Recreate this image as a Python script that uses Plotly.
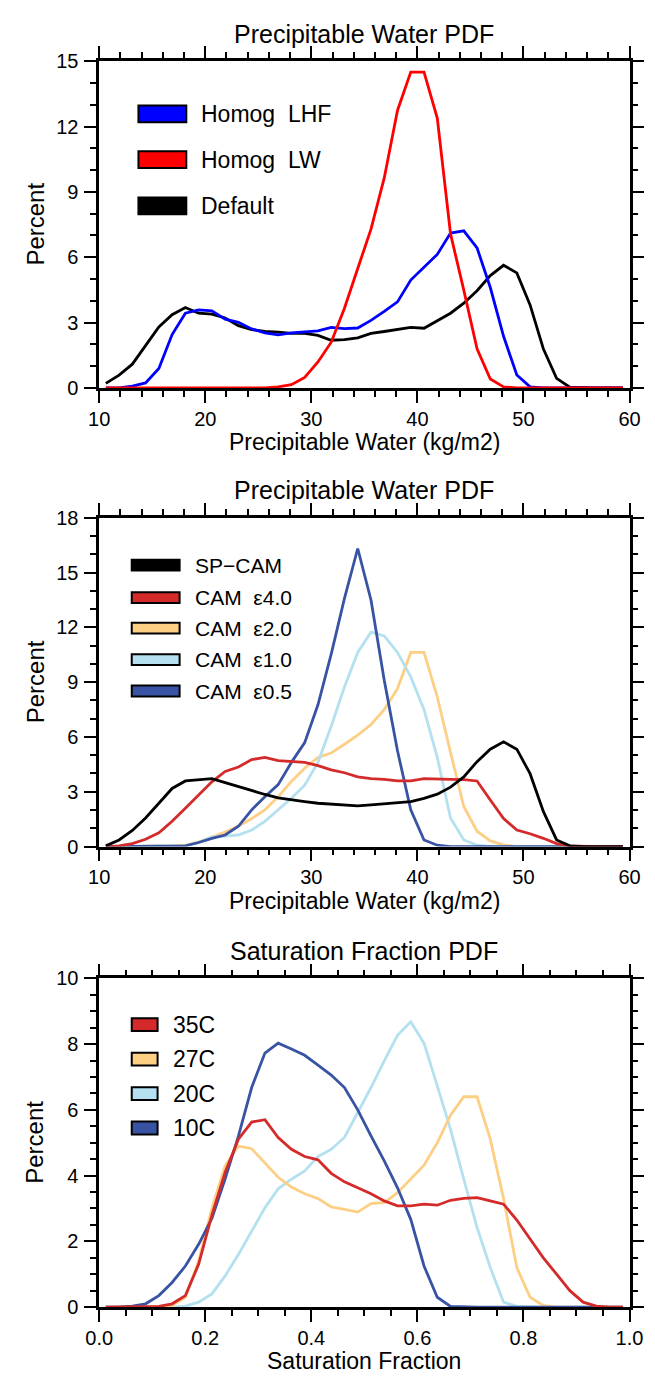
import plotly.graph_objects as go

# ---------------- data ----------------
pw_x = [10.625 + 1.25 * i for i in range(40)]

p1_default = [0.21, 0.59, 1.09, 1.92, 2.80, 3.36, 3.69, 3.43, 3.39, 3.21, 2.86, 2.68, 2.59, 2.56, 2.50, 2.50,
              2.41, 2.19, 2.22, 2.30, 2.50, 2.59, 2.68, 2.78, 2.74, 3.09, 3.43, 3.89, 4.46, 5.16, 5.63, 5.28,
              3.81, 1.80, 0.44, 0.03, 0, 0, 0, 0]
p1_lhf = [0, 0, 0.08, 0.23, 0.89, 2.45, 3.43, 3.58, 3.54, 3.16, 3.01, 2.71, 2.53, 2.44, 2.53, 2.59,
          2.62, 2.78, 2.72, 2.75, 3.10, 3.51, 3.95, 4.95, 5.55, 6.13, 7.11, 7.21, 6.43, 4.61, 2.37, 0.59,
          0.05, 0, 0, 0, 0, 0, 0, 0]
p1_lw = [0, 0, 0, 0, 0, 0, 0, 0, 0, 0, 0, 0, 0, 0.05, 0.15, 0.48,
         1.19, 2.10, 3.66, 5.48, 7.29, 9.64, 12.74, 14.5, 14.5, 12.39, 7.07, 4.49, 1.80, 0.41, 0.05, 0,
         0, 0, 0, 0, 0, 0, 0, 0]

p2_spcam = [0.04, 0.36, 0.88, 1.56, 2.37, 3.18, 3.59, 3.66, 3.72, 3.50, 3.27, 3.05, 2.85, 2.67, 2.55, 2.46,
            2.37, 2.33, 2.28, 2.23, 2.28, 2.33, 2.37, 2.46, 2.64, 2.87, 3.25, 3.81, 4.65, 5.33, 5.73, 5.33,
            3.99, 1.92, 0.36, 0.04, 0, 0, 0, 0]
p2_e40 = [0, 0.04, 0.16, 0.40, 0.75, 1.38, 2.10, 2.82, 3.54, 4.11, 4.35, 4.76, 4.88, 4.70, 4.65, 4.61,
          4.43, 4.20, 4.04, 3.81, 3.72, 3.68, 3.59, 3.59, 3.72, 3.72, 3.68, 3.66, 3.59, 2.55, 1.53, 0.90,
          0.70, 0.45, 0.16, 0.04, 0, 0, 0, 0]
p2_e20 = [0, 0, 0, 0, 0, 0.04, 0.07, 0.25, 0.52, 0.79, 1.11, 1.53, 2.01, 2.73, 3.57, 4.29,
          4.88, 5.12, 5.60, 6.10, 6.68, 7.49, 8.65, 10.63, 10.63, 8.20, 5.15, 2.19, 0.84, 0.31, 0.09, 0,
          0, 0, 0, 0, 0, 0, 0, 0]
p2_e10 = [0, 0, 0, 0, 0, 0, 0.04, 0.22, 0.52, 0.57, 0.63, 0.90, 1.38, 2.01, 2.64, 3.36,
          4.61, 6.59, 8.74, 10.63, 11.74, 11.53, 10.63, 9.29, 7.49, 4.88, 1.56, 0.36, 0.07, 0, 0, 0,
          0, 0, 0, 0, 0, 0, 0, 0]
p2_e05 = [0, 0, 0, 0, 0, 0, 0.04, 0.22, 0.45, 0.63, 1.11, 2.01, 2.73, 3.39, 4.61, 5.69,
          7.76, 10.54, 13.59, 16.32, 13.50, 9.10, 5.24, 2.01, 0.36, 0.07, 0, 0, 0, 0, 0, 0,
          0, 0, 0, 0, 0, 0, 0, 0]

sf_x = [0.0125 + 0.025 * j for j in range(40)]
p3_35c = [0, 0, 0, 0, 0.02, 0.10, 0.35, 1.30, 2.80, 4.10, 5.11, 5.63, 5.70, 5.16, 4.80, 4.58,
          4.48, 4.07, 3.81, 3.63, 3.45, 3.23, 3.08, 3.08, 3.13, 3.10, 3.25, 3.31, 3.33, 3.23, 3.13, 2.65,
          2.06, 1.50, 1.00, 0.50, 0.15, 0.03, 0, 0]
p3_27c = [0, 0, 0, 0, 0, 0.05, 0.30, 1.40, 3.00, 4.30, 4.90, 4.82, 4.40, 3.95, 3.65, 3.45,
          3.30, 3.05, 2.97, 2.89, 3.15, 3.18, 3.48, 3.89, 4.32, 5.00, 5.84, 6.40, 6.40, 5.11, 3.30, 1.20,
          0.30, 0.05, 0, 0, 0, 0, 0, 0]
p3_20c = [0, 0, 0, 0, 0, 0, 0.03, 0.15, 0.40, 0.95, 1.60, 2.31, 3.02, 3.60, 3.89, 4.14,
          4.58, 4.80, 5.16, 5.92, 6.68, 7.49, 8.27, 8.68, 8.03, 6.73, 5.41, 3.89, 2.42, 1.20, 0.15, 0.02,
          0, 0, 0, 0, 0, 0, 0, 0]
p3_10c = [0, 0, 0.03, 0.10, 0.35, 0.75, 1.25, 1.91, 2.70, 3.90, 5.20, 6.68, 7.73, 8.03, 7.85, 7.66,
          7.36, 7.06, 6.68, 6.00, 5.21, 4.45, 3.63, 2.67, 1.25, 0.30, 0.02, 0, 0, 0, 0, 0,
          0, 0, 0, 0, 0, 0, 0, 0]

p1_names = ["Homog\u00a0\u00a0LHF", "Homog\u00a0\u00a0LW", "Default"]
p2_names = ["SP\u2212CAM", "CAM\u00a0\u00a0\u03b54.0", "CAM\u00a0\u00a0\u03b52.0", "CAM\u00a0\u00a0\u03b51.0", "CAM\u00a0\u00a0\u03b50.5"]
p3_names = ["35C", "27C", "20C", "10C"]

titles = ["Precipitable Water PDF", "Precipitable Water PDF", "Saturation Fraction PDF"]
xtitles = ["Precipitable Water (kg/m2)", "Precipitable Water (kg/m2)", "Saturation Fraction"]

# ---------------- style ----------------
W, H = 655, 1386
FONT = "Liberation Sans, Arial, sans-serif"
L, R = 89, 643
panels = [(51, 383), (515, 849), (983, 1317)]

RED = "#D42A2A"
ORANGE = "#FDCF85"
LBLUE = "#B4E0EF"
DBLUE = "#3953A4"

p1_colors = ["#0000FF", "#FF0000", "#000000"]
p2_colors = ["#000000", RED, ORANGE, LBLUE, DBLUE]
p3_colors = [RED, ORANGE, LBLUE, DBLUE]


def px(x):
    return x / W


def py(y):
    return 1 - y / H


fig = go.Figure()
LW = 2.8

for ys, c in [(p1_default, p1_colors[2]), (p1_lhf, p1_colors[0]), (p1_lw, p1_colors[1])]:
    fig.add_trace(go.Scatter(x=pw_x, y=ys, mode="lines", line=dict(color=c, width=LW),
                             xaxis="x", yaxis="y", hoverinfo="skip"))

for ys, c in [(p2_e20, ORANGE), (p2_e10, LBLUE), (p2_e05, DBLUE), (p2_e40, RED), (p2_spcam, "#000000")]:
    fig.add_trace(go.Scatter(x=pw_x, y=ys, mode="lines", line=dict(color=c, width=LW),
                             xaxis="x2", yaxis="y2", hoverinfo="skip"))

for ys, c in [(p3_20c, LBLUE), (p3_27c, ORANGE), (p3_10c, DBLUE), (p3_35c, RED)]:
    fig.add_trace(go.Scatter(x=sf_x, y=ys, mode="lines", line=dict(color=c, width=LW),
                             xaxis="x3", yaxis="y3", hoverinfo="skip"))


def axis_common():
    return dict(showline=True, linecolor="black", linewidth=2.5, mirror="ticks",
                ticks="outside", ticklen=12, tickwidth=2, tickcolor="black",
                showgrid=False, zeroline=False,
                tickfont=dict(size=20, color="black", family=FONT))


xdom = [px(L), px(R)]
layout = dict(width=W, height=H, margin=dict(l=0, r=0, t=0, b=0),
              paper_bgcolor="white", plot_bgcolor="white", showlegend=False,
              font=dict(family=FONT, color="black"))

xspecs = [dict(range=[10, 60], dtick=10, tick0=0, minor_dtick=2),
          dict(range=[10, 60], dtick=10, tick0=0, minor_dtick=2),
          dict(range=[0, 1], dtick=0.2, tick0=0, minor_dtick=0.05, tickformat=".1f")]
yspecs = [dict(range=[0, 15], dtick=3, minor_dtick=1),
          dict(range=[0, 18], dtick=3, minor_dtick=1),
          dict(range=[0, 10], dtick=2, minor_dtick=0.5)]

for k in range(3):
    top, bot = panels[k]
    sfx = "" if k == 0 else str(k + 1)
    xa = axis_common()
    xs = dict(xspecs[k])
    md = xs.pop("minor_dtick")
    xa.update(xs)
    xa.update(domain=xdom, anchor="y" + sfx, ticklabelstandoff=-1,
              minor=dict(dtick=md, ticks="outside", ticklen=6, tickwidth=2, tickcolor="black"))
    ya = axis_common()
    ys_ = dict(yspecs[k])
    md = ys_.pop("minor_dtick")
    ya.update(ys_)
    ya.update(domain=[py(bot), py(top)], anchor="x" + sfx, ticklabelstandoff=2,
              minor=dict(dtick=md, ticks="outside", ticklen=6, tickwidth=2, tickcolor="black"))
    layout["xaxis" + sfx] = xa
    layout["yaxis" + sfx] = ya

fig.update_layout(**layout)

ann = []
shapes = []
cx = px((L + R) / 2)
for k in range(3):
    top, bot = panels[k]
    ann.append(dict(text=titles[k], x=cx, y=py(top - 28), xref="paper", yref="paper",
                    showarrow=False, xanchor="center", yanchor="middle",
                    font=dict(size=25, family=FONT, color="black")))
    ann.append(dict(text=xtitles[k], x=cx, y=py(bot + 55), xref="paper", yref="paper",
                    showarrow=False, xanchor="center", yanchor="middle",
                    font=dict(size=23, family=FONT, color="black")))
    ann.append(dict(text="Percent", x=px(22), y=py((top + bot) / 2), xref="paper", yref="paper",
                    showarrow=False, xanchor="center", yanchor="middle", textangle=-90,
                    font=dict(size=24, family=FONT, color="black")))

legends = [
    (p1_names, p1_colors, 130, 180, [104.5, 151, 198], 17, 193, 23),
    (p2_names, p2_colors, 123, 173, [563, 596, 627, 659, 691], 11, 187, 21),
    (p3_names, p3_colors, 123, 150, [1030, 1065, 1100, 1135], 13, 164, 23),
]
for names, cols, x0, x1, rows, h, tx, fs in legends:
    for nm, col, yc in zip(names, cols, rows):
        shapes.append(dict(type="rect", xref="paper", yref="paper",
                           x0=px(x0), x1=px(x1), y0=py(yc + h / 2), y1=py(yc - h / 2),
                           fillcolor=col, line=dict(color="black", width=2)))
        ann.append(dict(text=nm, x=px(tx), y=py(yc), xref="paper", yref="paper",
                        showarrow=False, xanchor="left", yanchor="middle",
                        font=dict(size=fs, family=FONT, color="black")))

fig.update_layout(annotations=ann, shapes=shapes)
fig.write_html("out.html")
